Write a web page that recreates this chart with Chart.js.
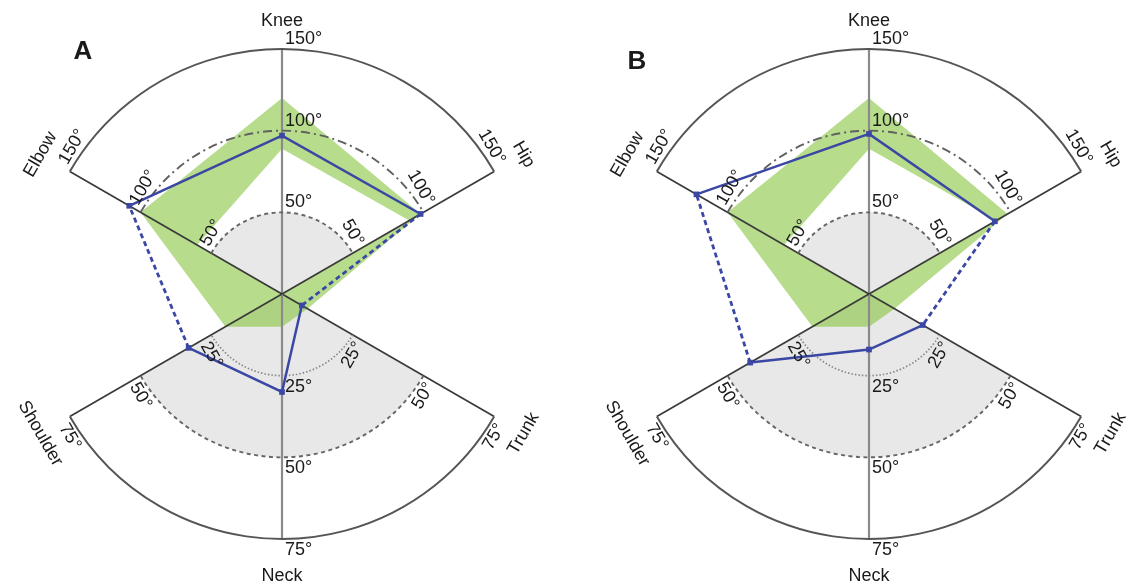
<!DOCTYPE html>
<html>
<head>
<meta charset="utf-8">
<script src="https://cdn.jsdelivr.net/npm/chart.js@4.4.1/dist/chart.umd.min.js"></script>
<style>
  html, body { margin: 0; padding: 0; background: #fff; overflow: hidden; }
  canvas { position: absolute; top: 0; }
  #chartA { left: 0; }
  #chartB { left: 563px; }
</style>
</head>
<body>
<canvas id="chartA" width="563" height="583"></canvas>
<canvas id="chartB" width="563" height="583"></canvas>
<script>
// joints clockwise from the top, in the order the radar scale places them
const joints = ['Knee', 'Hip', 'Trunk', 'Neck', 'Shoulder', 'Elbow'];
const jointMax = [150, 150, 75, 75, 75, 150];
const upperTicks = [50, 100, 150];
const lowerTicks = [25, 50, 75];

// normal range band (degrees)
const normalHigh = [120, 98, 9, 10, 20, 100];
const normalLow = [89, 90, 0, 0, 0, 60];

// measured joint angles (degrees)
const anglesA = [97, 98, 7, 30, 33, 108];
const anglesB = [98, 89, 19, 17, 42, 122];

const FONT = "'Liberation Sans', Arial, sans-serif";
const BLUE = '#3a47a3';
const R_MAX = 150;

// all spokes share one radius: 150° on the upper joints, 75° on the lower ones
function toScale(values) {
  return values.map((v, i) => v == null ? null : v * R_MAX / jointMax[i]);
}

function pick(values, keep) {
  return toScale(values).map((v, i) => keep.includes(i) ? v : null);
}

const isUpper = i => jointMax[i] === 150;

function spokeAngle(scale, i) {
  return scale.getIndexAngle(i) - Math.PI / 2;
}

function sectorAngles(scale, from, to) {
  const a0 = spokeAngle(scale, from);
  let a1 = spokeAngle(scale, to);
  while (a1 < a0) a1 += Math.PI * 2;
  return [a0, a1];
}

function radiusFor(scale, value, max) {
  return scale.getDistanceFromCenterForValue(value * R_MAX / max);
}

// upper fan runs Elbow -> Hip, lower fan Trunk -> Shoulder
const UPPER = [5, 1];
const LOWER = [2, 4];

function drawArc(ctx, s, fan, r, color, width, dash) {
  const [a0, a1] = sectorAngles(s, fan[0], fan[1]);
  ctx.beginPath();
  ctx.strokeStyle = color;
  ctx.lineWidth = width;
  ctx.setLineDash(dash);
  ctx.arc(s.xCenter, s.yCenter, r, a0, a1);
  ctx.stroke();
}

function drawGrid(chart) {
  const s = chart.scales.r;
  const ctx = chart.ctx;
  ctx.save();

  // spokes
  joints.forEach((name, i) => {
    const p = s.getPointPositionForValue(i, R_MAX);
    ctx.beginPath();
    ctx.setLineDash([]);
    ctx.strokeStyle = (i === 0 || i === 3) ? '#8a8a8a' : '#3a3a3a';
    ctx.lineWidth = (i === 0 || i === 3) ? 2.2 : 1.7;
    ctx.moveTo(s.xCenter, s.yCenter);
    ctx.lineTo(p.x, p.y);
    ctx.stroke();
  });

  const full = s.getDistanceFromCenterForValue(R_MAX);
  drawArc(ctx, s, UPPER, full, '#555', 2, []);
  drawArc(ctx, s, LOWER, full, '#555', 2, []);
  drawArc(ctx, s, UPPER, radiusFor(s, 100, 150), '#606060', 1.9, [9, 4, 2, 4]);
  drawArc(ctx, s, UPPER, radiusFor(s, 50, 150), '#666', 1.9, [4, 3.5]);
  drawArc(ctx, s, LOWER, radiusFor(s, 50, 75), '#666', 1.9, [4, 3.5]);
  drawArc(ctx, s, LOWER, radiusFor(s, 25, 75), '#888', 1.7, [1.5, 2]);
  ctx.restore();
}

function drawLabels(chart, opts) {
  const s = chart.scales.r;
  const ctx = chart.ctx;
  const cx = s.xCenter, cy = s.yCenter;
  ctx.save();
  ctx.fillStyle = '#1a1a1a';

  // panel letter
  ctx.font = 'bold 26px ' + FONT;
  ctx.textAlign = 'center';
  ctx.textBaseline = 'middle';
  ctx.fillText(opts.letter, opts.letterX, opts.letterY);

  ctx.font = '18px ' + FONT;
  joints.forEach((name, i) => {
    const ticks = isUpper(i) ? upperTicks : lowerTicks;
    const a = spokeAngle(s, i);
    const u = { x: Math.cos(a), y: Math.sin(a) };
    const outer = s.getDistanceFromCenterForValue(R_MAX);

    if (i === 0 || i === 3) {
      const down = i === 3;
      ctx.textAlign = 'center';
      ctx.textBaseline = 'middle';
      ctx.fillText(name, cx, cy + (down ? outer + 37 : -outer - 28));
      ctx.textAlign = 'left';
      ctx.textBaseline = down ? 'top' : 'bottom';
      ticks.forEach(t => {
        const r = radiusFor(s, t, jointMax[i]);
        ctx.fillText(t + '°', cx + 3, cy + (down ? r + 2 : -r - 1));
      });
      return;
    }

    // side spokes: text runs along the arc
    let rot = a + Math.PI / 2;
    while (rot > Math.PI) rot -= Math.PI * 2;
    while (rot <= -Math.PI) rot += Math.PI * 2;
    if (rot > Math.PI / 2) rot -= Math.PI;
    if (rot < -Math.PI / 2) rot += Math.PI;
    const tx = Math.cos(rot), ty = Math.sin(rot);
    const mid = isUpper(i) ? { x: 0, y: -1 } : { x: 0, y: 1 };
    const dir = (tx * (mid.x - u.x) + ty * (mid.y - u.y)) > 0 ? 1 : -1;

    ticks.forEach(t => {
      const r = radiusFor(s, t, jointMax[i]);
      const x = cx + u.x * (r + 10) + tx * 4 * dir;
      const y = cy + u.y * (r + 10) + ty * 4 * dir;
      ctx.save();
      ctx.translate(x, y);
      ctx.rotate(rot);
      ctx.textAlign = dir > 0 ? 'left' : 'right';
      ctx.textBaseline = 'middle';
      ctx.fillText(t + '°', 0, 0);
      ctx.restore();
    });

    ctx.save();
    ctx.translate(cx + u.x * (outer + 34), cy + u.y * (outer + 34));
    ctx.rotate(rot);
    ctx.textAlign = 'center';
    ctx.textBaseline = 'middle';
    ctx.fillText(name, 0, 0);
    ctx.restore();
  });
  ctx.restore();
}

const diagramPlugin = {
  id: 'diagram',
  beforeDatasetsDraw(chart) {
    const s = chart.scales.r;
    const ctx = chart.ctx;
    ctx.save();
    ctx.fillStyle = '#e8e8e8';
    [UPPER, LOWER].forEach((fan, k) => {
      const [a0, a1] = sectorAngles(s, fan[0], fan[1]);
      const r = k === 0 ? radiusFor(s, 50, 150) : radiusFor(s, 50, 75);
      ctx.beginPath();
      ctx.moveTo(s.xCenter, s.yCenter);
      ctx.arc(s.xCenter, s.yCenter, r, a0, a1);
      ctx.closePath();
      ctx.fill();
    });
    ctx.restore();
  },
  beforeDatasetDraw(chart, args) {
    // grid goes over the green band but under the measured line
    if (args.index === 3) drawGrid(chart);
  },
  afterDraw(chart, args, opts) {
    drawLabels(chart, opts);
  }
};

function makePanel(id, letter, letterX, letterY, angles, padding) {
  const solid = { borderColor: BLUE, borderWidth: 2.5, fill: false, pointStyle: 'rect',
    pointRadius: 4, pointBackgroundColor: BLUE, pointBorderWidth: 0 };
  const dashed = { borderColor: BLUE, borderWidth: 2.8, borderDash: [5, 3.5], fill: false, pointRadius: 0 };

  return new Chart(document.getElementById(id), {
    type: 'radar',
    data: {
      labels: joints,
      datasets: [
        { ...solid, data: pick(angles, [5, 0, 1]) },
        { ...solid, data: pick(angles, [2, 3, 4]) },
        { ...dashed, data: pick(angles, [1, 2]) },
        { ...dashed, data: pick(angles, [4, 5]) },
        { data: toScale(normalHigh), borderWidth: 0, pointRadius: 0,
          backgroundColor: 'rgba(124, 191, 46, 0.55)', fill: '+1' },
        { data: toScale(normalLow), borderWidth: 0, pointRadius: 0, fill: false }
      ]
    },
    options: {
      responsive: false,
      animation: false,
      events: [],
      layout: { padding },
      plugins: {
        legend: { display: false },
        tooltip: { enabled: false },
        diagram: { letter, letterX, letterY }
      },
      scales: {
        r: {
          min: 0,
          max: R_MAX,
          ticks: { display: false },
          grid: { display: false },
          angleLines: { display: false },
          pointLabels: { display: false }
        }
      }
    },
    plugins: [diagramPlugin]
  });
}

makePanel('chartA', 'A', 83, 52, anglesA, { left: 37, right: 36, top: 49, bottom: 44 });
makePanel('chartB', 'B', 74, 62, anglesB, { left: 61, right: 12, top: 49, bottom: 44 });
</script>
</body>
</html>
